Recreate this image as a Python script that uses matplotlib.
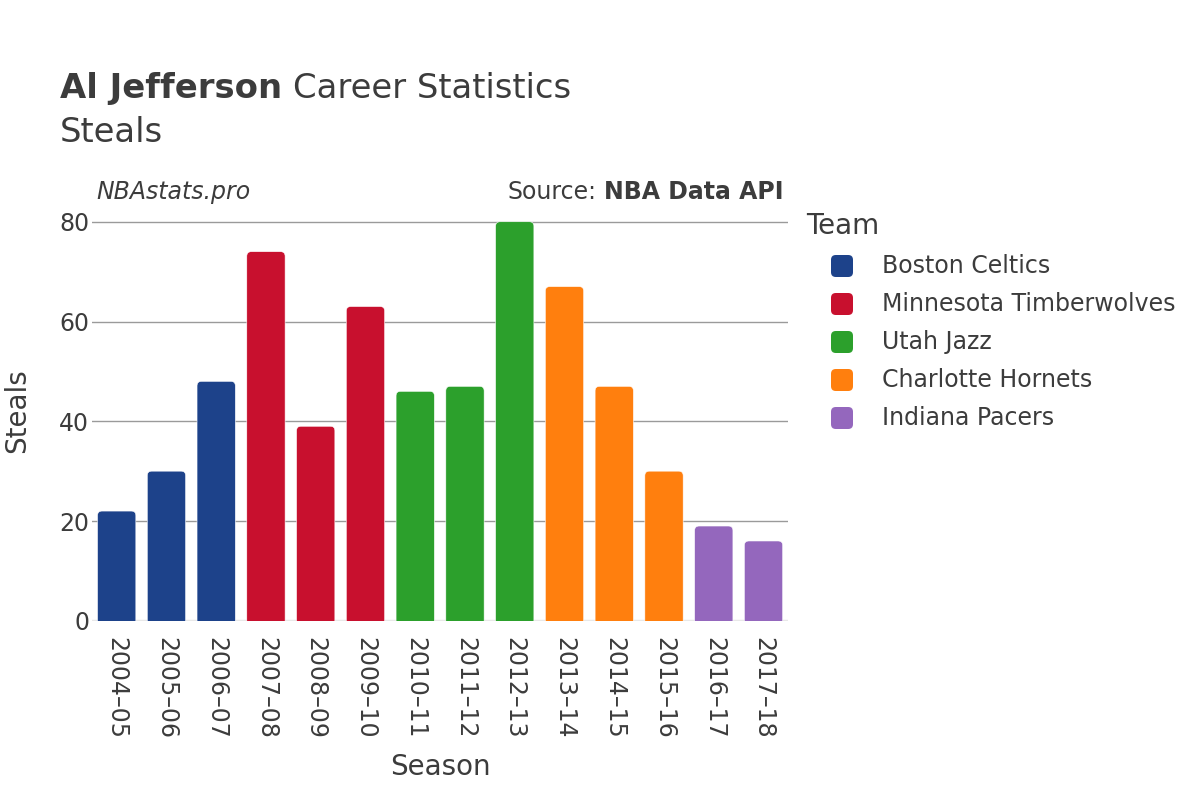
import matplotlib
matplotlib.use("Agg")
import matplotlib.pyplot as plt
from matplotlib.patches import FancyBboxPatch

# datos
seasons = ["2004–05", "2005–06", "2006–07", "2007–08", "2008–09", "2009–10", "2010–11",
           "2011–12", "2012–13", "2013–14", "2014–15", "2015–16", "2016–17", "2017–18"]
steals = [22, 30, 48, 74, 39, 63, 46, 47, 80, 67, 47, 30, 19, 16]
season_team = ["Boston Celtics", "Boston Celtics", "Boston Celtics",
               "Minnesota Timberwolves", "Minnesota Timberwolves", "Minnesota Timberwolves",
               "Utah Jazz", "Utah Jazz", "Utah Jazz",
               "Charlotte Hornets", "Charlotte Hornets", "Charlotte Hornets",
               "Indiana Pacers", "Indiana Pacers"]
teams = ["Boston Celtics", "Minnesota Timberwolves", "Utah Jazz", "Charlotte Hornets", "Indiana Pacers"]
team_colors = ["#1d428a", "#c8102e", "#2ca02c", "#ff7f0e", "#9467bd"]

color_of = dict(zip(teams, team_colors))
txt = "#3c3c3c"

fig = plt.figure(figsize=(12, 8), dpi=100)
ax = fig.add_axes([0.0765, 0.224, 0.5805, 0.525])

x = list(range(len(seasons)))
bars = ax.bar(x, steals, width=0.77, color=[color_of[t] for t in season_team])
ax.set_xlim(-0.5, len(seasons) - 0.5)
ax.set_ylim(0, 84.2)

# esquinas redondeadas
ax_w = 0.5805 * 1200
ax_h = 0.525 * 800
aspect = (84.2 / ax_h) / (len(seasons) / ax_w)
for b in bars:
    b.set_visible(False)
    p = FancyBboxPatch((b.get_x(), -2), b.get_width(), b.get_height() + 2,
                       boxstyle="round,pad=0,rounding_size=0.09", mutation_aspect=aspect,
                       facecolor=b.get_facecolor(), edgecolor="white", linewidth=0.4,
                       zorder=3, clip_on=True)
    ax.add_patch(p)

ax.set_yticks([0, 20, 40, 60, 80])
ax.grid(axis="y", color="#9a9a9a", linewidth=1, zorder=0)
ax.axhline(0, color="#e8e8e8", linewidth=2.5, zorder=2)
ax.set_xticks(x)
ax.set_xticklabels(seasons, rotation=-90, fontsize=17, color=txt)
ax.tick_params(axis="y", labelsize=17, labelcolor=txt, length=0, pad=2)
ax.tick_params(axis="x", length=0, pad=12)
for s in ax.spines.values():
    s.set_visible(False)

ax.set_xlabel("Season", fontsize=20, color=txt, labelpad=10)
ax.set_ylabel("Steals", fontsize=20, color=txt, labelpad=20)

# titulo
r = fig.canvas.get_renderer()
t1 = fig.text(0.05, 0.889, "Al Jefferson", fontsize=24.4, fontweight="bold", color=txt, va="center")
bb = t1.get_window_extent(renderer=r)
fig.text(bb.x1 / 1200 + 0.009, 0.889, "Career Statistics", fontsize=24.4, color=txt, va="center")
fig.text(0.05, 0.835, "Steals", fontsize=24.4, color=txt, va="center")

fig.text(0.08, 0.76, "NBAstats.pro", fontsize=17, style="italic", color=txt, va="center")
t2 = fig.text(0.653, 0.76, "NBA Data API", fontsize=17, fontweight="bold", color=txt,
              va="center", ha="right")
bb2 = t2.get_window_extent(renderer=r)
fig.text(bb2.x0 / 1200 - 0.006, 0.76, "Source:", fontsize=17, color=txt, va="center", ha="right")

# leyenda
fig.text(806 / 1200, 1 - 226 / 800, "Team", fontsize=20, color=txt, va="center")
for i, (team, c) in enumerate(zip(teams, team_colors)):
    yc = 266 + 38 * i
    sq = FancyBboxPatch(((831) / 1200, 1 - (yc + 11) / 800), 22 / 1200, 22 / 800,
                        boxstyle="round,pad=0,rounding_size=0.004", mutation_aspect=1.5,
                        transform=fig.transFigure, facecolor=c, edgecolor="none")
    fig.patches.append(sq)
    fig.text(882 / 1200, 1 - yc / 800, team, fontsize=17, color=txt, va="center")

fig.savefig("out.png", dpi=100)
